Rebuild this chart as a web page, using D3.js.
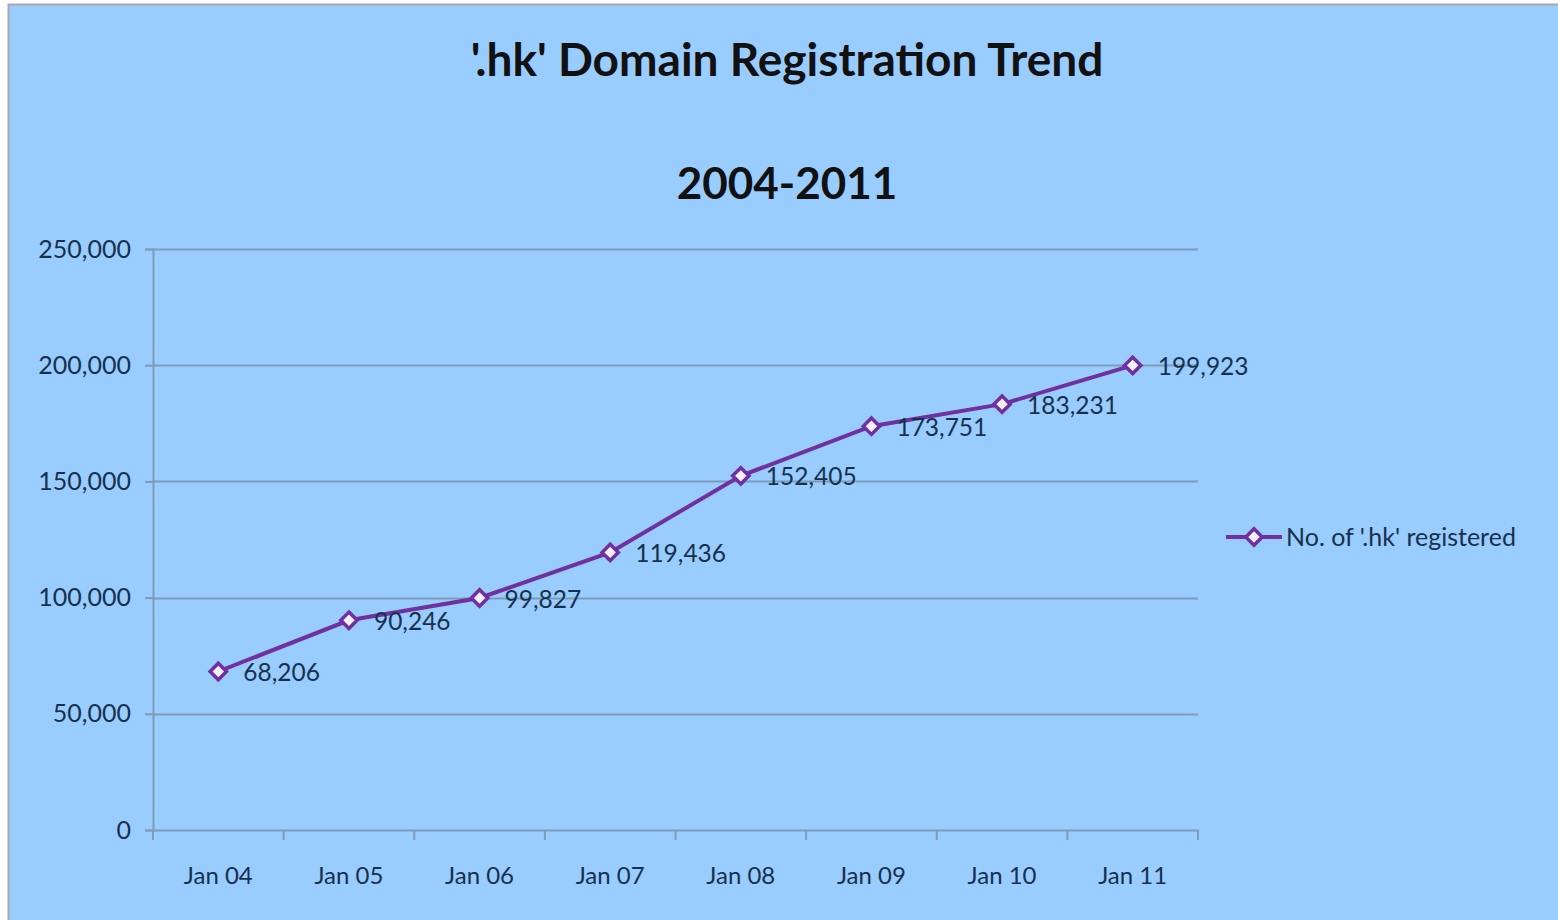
<!DOCTYPE html>
<html>
<head>
<meta charset="utf-8">
<script src="https://cdn.jsdelivr.net/npm/d3@7/dist/d3.min.js"></script>
<style>
  html, body { margin: 0; padding: 0; background: #fff; }
  svg { display: block; }
  text { font-family: Lato, "Open Sans", sans-serif; }
</style>
</head>
<body>
<div id="chart"></div>
<script>
// data
var categories = ['Jan 04', 'Jan 05', 'Jan 06', 'Jan 07', 'Jan 08', 'Jan 09', 'Jan 10', 'Jan 11'];
var registered = [68206, 90246, 99827, 119436, 152405, 173751, 183231, 199923];
var yTicks = [0, 50000, 100000, 150000, 200000, 250000];
var seriesName = "No. of '.hk' registered";
var titleLines = ["'.hk' Domain Registration Trend", '2004-2011'];

var width = 1558;
var height = 920;
var plot = { left: 153, right: 1198, top: 249, bottom: 830 };
var lineColor = '#7030a0';
var textColor = '#17314d';
var gridColor = '#7f9bb8';

var svg = d3.select('#chart').append('svg')
  .attr('width', width)
  .attr('height', height);

// background + top/left frame
svg.append('rect')
  .attr('x', 8).attr('y', 4)
  .attr('width', width - 8).attr('height', height - 4)
  .style('fill', '#99ccff');
svg.append('path')
  .attr('d', 'M8.5,' + height + 'V4.5H' + width)
  .style('fill', 'none')
  .style('stroke', '#a8a8a8')
  .style('stroke-width', 2);

// titles
svg.selectAll('.title')
  .data(titleLines)
  .enter()
  .append('text')
  .attr('class', 'title')
  .attr('x', 787)
  .attr('y', function (d, i) { return i === 0 ? 76 : 199; })
  .attr('text-anchor', 'middle')
  .style('font-size', function (d, i) { return i === 0 ? '46px' : '44px'; })
  .style('font-weight', 'bold')
  .style('fill', '#111')
  .text(function (d) { return d; });

var x = d3.scaleBand()
  .domain(categories)
  .range([plot.left, plot.right]);
var y = d3.scaleLinear()
  .domain([0, 250000])
  .range([plot.bottom, plot.top]);

// gridlines
svg.append('g')
  .selectAll('line')
  .data(yTicks.slice(1))
  .enter()
  .append('line')
  .attr('x1', plot.left).attr('x2', plot.right)
  .attr('y1', function (d) { return Math.round(y(d)) + 0.5; })
  .attr('y2', function (d) { return Math.round(y(d)) + 0.5; })
  .style('stroke', gridColor)
  .style('stroke-width', 2);

// y axis
var yAxis = svg.append('g')
  .attr('transform', 'translate(' + plot.left + ',0)')
  .call(d3.axisLeft(y).tickValues(yTicks).tickSize(8).tickPadding(14).tickFormat(d3.format(',')));
yAxis.select('.domain').style('stroke', gridColor).style('stroke-width', 2);
yAxis.selectAll('.tick line').style('stroke', gridColor).style('stroke-width', 2);
yAxis.selectAll('text')
  .style('font-size', '25px')
  .style('fill', textColor)
  .style('font-family', 'Lato, sans-serif');

// x axis
var xAxis = svg.append('g')
  .attr('transform', 'translate(0,' + plot.bottom + ')')
  .call(d3.axisBottom(x).tickSize(0).tickPadding(37));
xAxis.select('.domain').style('stroke', gridColor).style('stroke-width', 2);
xAxis.selectAll('text')
  .style('font-size', '24px')
  .style('fill', textColor)
  .style('font-family', 'Lato, sans-serif');
// tick marks between categories
xAxis.selectAll('.sep')
  .data(categories.concat(['end']))
  .enter()
  .append('line')
  .attr('class', 'sep')
  .attr('x1', function (d, i) { return plot.left + i * x.step(); })
  .attr('x2', function (d, i) { return plot.left + i * x.step(); })
  .attr('y1', 0).attr('y2', 10)
  .style('stroke', gridColor)
  .style('stroke-width', 2);

// series line
var cx = function (d, i) { return x(categories[i]) + x.bandwidth() / 2; };
var line = d3.line()
  .x(cx)
  .y(function (d) { return y(d); });
svg.append('path')
  .datum(registered)
  .attr('d', line)
  .style('fill', 'none')
  .style('stroke', lineColor)
  .style('stroke-width', 4);

var diamond = d3.symbol().type(d3.symbolDiamond2).size(170);

svg.append('g')
  .selectAll('path')
  .data(registered)
  .enter()
  .append('path')
  .attr('d', diamond)
  .attr('transform', function (d, i) { return 'translate(' + cx(d, i) + ',' + y(d) + ')'; })
  .style('fill', '#f4f0fa')
  .style('stroke', lineColor)
  .style('stroke-width', 3.5);

// data labels
svg.append('g')
  .selectAll('text')
  .data(registered)
  .enter()
  .append('text')
  .attr('x', function (d, i) { return cx(d, i) + 25; })
  .attr('y', function (d) { return y(d) + 1; })
  .attr('dy', '0.35em')
  .style('font-size', '24.5px')
  .style('fill', textColor)
  .text(function (d) { return d3.format(',')(d); });

// legend
var legend = svg.append('g').attr('transform', 'translate(1226,537)');
legend.append('line')
  .attr('x1', 0).attr('x2', 56)
  .style('stroke', lineColor)
  .style('stroke-width', 4);
legend.append('path')
  .attr('d', diamond)
  .attr('transform', 'translate(28,0)')
  .style('fill', '#f4f0fa')
  .style('stroke', lineColor)
  .style('stroke-width', 3.5);
legend.append('text')
  .attr('x', 60)
  .attr('dy', '0.35em')
  .style('font-size', '25px')
  .style('fill', textColor)
  .text(seriesName);
</script>
</body>
</html>
